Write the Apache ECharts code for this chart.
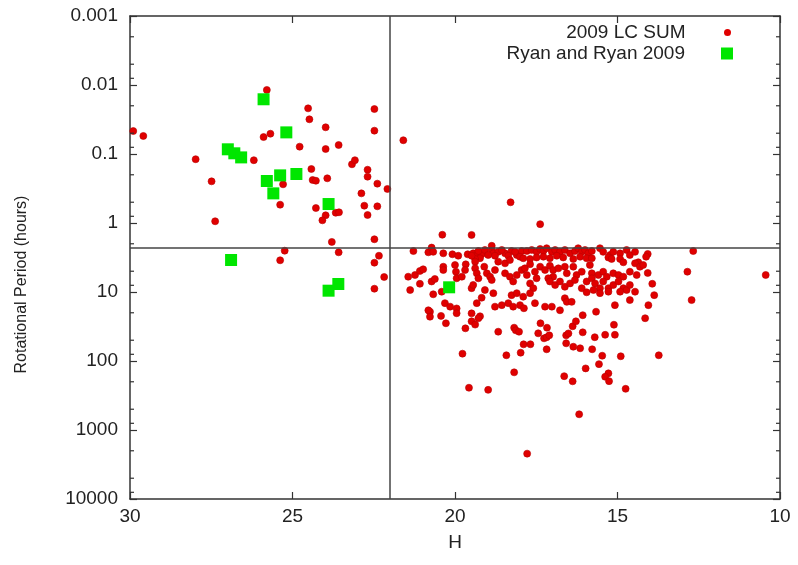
<!DOCTYPE html>
<html><head><meta charset="utf-8">
<script src="https://cdn.jsdelivr.net/npm/echarts@6/dist/echarts.min.js"></script>
<style>html,body{margin:0;padding:0;background:#fff}#c{width:798px;height:565px}</style>
</head><body><div id="c"></div>
<script>
// ---- data ----
const xTickValues = [30, 25, 20, 15, 10];
const yTickLabels = ['0.001', '0.01', '0.1', '1', '10', '100', '1000', '10000'];
const minorTickValues = [0.002,0.005,0.008,0.02,0.05,0.08,0.2,0.5,0.8,2,5,8,20,50,80,200,500,800,2000,5000,8000];
const boundaryH = 22;
const boundaryP = 2.3;
const seriesNames = ['2009 LC SUM', 'Ryan and Ryan 2009'];

// [H, rotational period (hours)]
const lcSum = [
[29.90,0.0465],[29.59,0.0548],[27.98,0.119],[27.49,0.249],[27.38,0.944],[25.79,0.0118],[25.89,0.0568],[25.68,0.0508],[26.19,0.123],[25.29,0.275],[25.38,0.543],[24.52,0.0218],[24.48,0.0314],[24.78,0.0783],[24.42,0.165],[24.38,0.238],[24.28,0.244],[23.98,0.041],[23.98,0.0847],[23.58,0.0741],[23.93,0.225],[24.28,0.607],[23.98,0.773],[24.08,0.914],[23.67,0.71],[23.57,0.70],[23.79,1.88],[23.17,0.141],[23.08,0.123],[22.48,0.0223],[22.48,0.0459],[22.69,0.169],[22.69,0.213],[22.39,0.269],[22.08,0.321],[22.88,0.372],[22.79,0.561],[22.39,0.573],[22.69,0.766],[22.48,1.72],[25.24,2.52],[25.38,3.47],[23.58,2.66],[22.34,2.98],[22.48,3.76],[22.18,6.06],[22.48,8.96],
[21.59,0.0632],[18.29,0.501],[17.38,1.04],[20.39,1.48],[19.49,1.49],[12.67,2.55],[12.85,5.08],[12.72,13.1],[10.44,5.67],[14.07,2.81],[14.12,3.08],[14.07,5.30],[13.93,7.6],[13.87,11.1],[14.15,24.0],[13.73,82.6],
[15.66,19.3],[16.07,21.7],[15.11,29.8],[16.07,38.4],[15.70,45.2],[15.38,41.7],[15.08,41.7],[16.15,65.4],[15.78,67.6],[15.47,83.8],[14.90,85.4],[15.57,111],[15.98,128],[15.28,151],[15.38,169],[15.26,196],[14.75,253],[16.18,592],
[20.77,19.3],[20.77,22.8],[20.43,22.2],[20.28,28.4],[19.68,33.6],[19.49,20.4],[19.49,26.6],[19.38,29.7],[19.23,22.5],[19.28,24.0],[18.67,37.6],[18.18,32.9],[18.13,35.9],[18.03,37.6],[17.37,28.4],[17.17,32.9],[17.44,39.7],[17.26,46.9],[17.18,45.3],[17.10,42.5],[16.38,31.4],[16.28,26.6],[16.58,42.5],[16.51,39.8],[16.58,55.4],[16.36,62.1],[17.89,57.3],[17.68,57.2],[17.98,75.8],[18.42,82.6],[17.18,67.6],[19.77,78.3],[18.18,146],[16.64,166],[16.38,197],[19.57,244],[18.98,262],[17.78,2200],
[21.28,2.55],[20.82,2.66],[20.72,2.27],[20.67,2.62],[20.36,2.75],[20.08,2.84],[19.90,2.98],[19.61,2.84],[19.44,2.75],[19.33,2.91],[19.18,2.84],[19.23,3.24],[19.38,3.32],[18.87,2.46],[18.82,2.75],[18.67,2.62],[18.46,2.75],[18.26,2.55],[18.10,2.91],[17.95,2.55],
[19.49,2.98],[19.28,2.55],[19.08,2.46],[18.98,2.91],[18.77,2.98],[18.56,2.46],[18.36,2.98],[18.15,2.62],[18.0,3.08],[18.87,2.14],
[21.44,6.0],[21.23,5.67],[21.08,4.96],[20.98,4.69],[21.38,9.36],[21.08,7.6],[20.72,7.04],[20.62,6.48],[20.36,4.30],[20.36,4.80],[20.41,9.9],[20.67,10.8],[20.0,4.06],[19.97,5.08],[19.95,6.33],[19.67,3.97],[19.69,4.80],[19.79,6.0],[19.38,3.63],[19.38,4.54],[19.33,5.36],[19.28,6.33],[19.10,4.30],[19.02,5.36],[18.92,6.0],[18.87,6.7],[18.77,4.80],[18.67,3.63],[18.46,5.36],[18.31,6.0],[18.21,7.04],[18.10,5.67],[17.95,4.80],[18.46,3.84],[18.31,3.44],
[20.31,14.5],[20.15,16.3],[19.95,17.3],[19.49,8.8],[19.44,7.9],[19.18,12.1],[19.08,9.36],[18.82,10.4],[19.33,14.5],[18.77,16.3],[18.56,15.5],[18.36,14.5],[18.26,11.1],[18.10,10.4],[18.21,16.3],[18.0,15.5],[20.82,18.4],[19.95,20.3],[17.88,17.2],
[17.79,2.55],[17.64,2.46],[17.49,2.62],[17.38,2.38],[17.28,2.55],[17.18,2.32],[17.02,2.62],[16.92,2.46],[16.77,2.62],[16.62,2.46],[16.46,2.75],[16.31,2.55],[16.21,2.32],[16.10,2.62],[16.0,2.46],[15.90,2.75],[15.79,2.55],[15.54,2.32],[15.44,2.62],[15.23,2.91],[15.13,2.62],[14.92,2.75],[14.72,2.46],[14.62,2.91],[14.46,2.62],
[17.90,3.24],[17.69,3.32],[17.49,3.16],[17.28,3.08],[17.08,3.24],[16.87,2.98],[16.67,3.16],[16.36,3.32],[16.15,3.08],[15.95,3.24],[15.79,3.24],[15.28,3.16],[15.18,3.32],[14.92,3.32],[14.36,3.71],[14.46,3.84],[14.82,3.71],
[17.85,4.54],[17.69,3.96],[17.79,5.67],[17.54,5.08],[17.38,4.30],[17.23,4.80],[17.08,4.17],[16.98,4.80],[16.82,4.54],[16.62,4.30],[16.36,4.30],[16.26,5.67],[16.10,5.08],[15.85,4.06],[15.79,5.36],[15.59,5.67],[15.44,5.08],[15.33,6.0],[15.13,5.36],[14.97,5.67],[14.82,6.0],[14.62,5.08],[14.41,5.67],[14.31,4.30],[14.21,4.06],[16.56,5.36],[16.98,6.0],[17.13,6.33],[17.49,6.33],
[17.69,7.5],[17.59,8.8],[17.08,7.04],[16.92,7.92],[16.77,7.04],[16.62,8.4],[16.46,7.5],[16.31,6.7],[16.10,8.8],[15.95,7.04],[15.79,6.33],[15.69,7.5],[15.54,8.8],[15.44,7.04],[15.28,8.8],[15.13,7.92],[14.97,7.04],[14.82,8.8],[14.72,9.36],[14.62,7.92],
[17.90,11.7],[17.69,10.4],[17.54,14.5],[17.23,16.3],[17.02,16.3],[16.77,18.4],[16.62,12.3],[16.56,13.9],[16.41,13.9],[15.08,15.5],[14.62,13.1],[15.74,9.36],[15.95,10.1],[15.54,10.4],[15.28,9.9],[14.92,9.9],[14.46,9.9],[14.05,15.5]
];

const ryan2009 = [
[25.89,0.0161],[25.19,0.0486],[26.99,0.0855],[26.79,0.0977],[26.58,0.112],[25.79,0.246],[25.38,0.204],[24.88,0.195],[25.59,0.372],[23.89,0.531],[26.89,3.44],[23.59,7.66],[23.89,9.57],[20.18,8.55]
];

// ---- chart ----
const FONT = 'Liberation Sans, Arial, Helvetica, sans-serif';
const AX = '#333';
const chart = echarts.init(document.getElementById('c'), null, {renderer: 'canvas'});

const xBase = {
  type: 'value', min: 10, max: 30, interval: 5, inverse: true,
  axisLine: {show: true, onZero: false, lineStyle: {color: AX, width: 1.5}},
  axisTick: {show: true, inside: true, length: 7, lineStyle: {color: AX, width: 1.2}},
  splitLine: {show: false}
};
const yBase = {
  type: 'log', logBase: 10, min: 0.001, max: 10000, inverse: true,
  axisLine: {show: true, onZero: false, lineStyle: {color: AX, width: 1.5}},
  axisTick: {show: true, inside: true, length: 7, lineStyle: {color: AX, width: 1.2}},
  splitLine: {show: false}, minorTick: {show: false}
};

chart.setOption({
  animation: false,
  backgroundColor: '#fff',
  textStyle: {fontFamily: FONT},
  grid: {left: 130, right: 18, top: 16, bottom: 66, containLabel: false},
  legend: [
    {
      data: [{name: seriesNames[0], icon: 'path://M0,5a5,5 0 1,0 10,0a5,5 0 1,0 -10,0Z', itemStyle: {borderWidth: 0}}],
      orient: 'vertical', align: 'right', right: 67, top: 23, padding: 0,
      itemWidth: 74, itemHeight: 7, selectedMode: false,
      textStyle: {fontSize: 19, color: '#222', fontFamily: FONT}
    },
    {
      data: [{name: seriesNames[1], icon: 'path://M0,0L10,0L10,10L0,10Z'}],
      orient: 'vertical', align: 'right', right: 65, top: 44, padding: 0,
      itemWidth: 74, itemHeight: 12, selectedMode: false,
      textStyle: {fontSize: 19, color: '#222', fontFamily: FONT}
    }
  ],
  xAxis: [
    Object.assign({}, xBase, {
      position: 'bottom',
      axisLabel: {show: true, fontSize: 19, color: '#222', margin: 8, fontFamily: FONT},
      name: 'H', nameLocation: 'middle', nameGap: 34,
      nameTextStyle: {fontSize: 19, color: '#222', fontFamily: FONT}
    }),
    Object.assign({}, xBase, {position: 'top', axisLabel: {show: false}})
  ],
  yAxis: [
    Object.assign({}, yBase, {
      position: 'left',
      axisLabel: {
        show: true, fontSize: 19, color: '#222', margin: 12, fontFamily: FONT,
        formatter: function (v) { return yTickLabels[Math.round(Math.log10(v)) + 3]; }
      },
      name: 'Rotational Period (hours)', nameLocation: 'middle', nameGap: 100, nameRotate: 90,
      nameTextStyle: {fontSize: 16, color: '#222', fontFamily: FONT, padding: [0, 54, 0, 0]}
    }),
    Object.assign({}, yBase, {position: 'right', axisLabel: {show: false}})
  ],
  series: [
    {
      name: seriesNames[0], type: 'scatter', xAxisIndex: 0, yAxisIndex: 0,
      data: lcSum, symbol: 'circle', symbolSize: 7,
      itemStyle: {color: '#e00000', borderColor: '#b80000', borderWidth: 0.6, opacity: 1},
      markLine: {
        silent: true, symbol: 'none', animation: false,
        label: {show: false},
        lineStyle: {color: '#444', width: 1.5, type: 'solid'},
        data: [{xAxis: boundaryH}, {yAxis: boundaryP}]
      },
      z: 3
    },
    {
      name: seriesNames[1], type: 'scatter', xAxisIndex: 0, yAxisIndex: 0,
      data: ryan2009, symbol: 'rect', symbolSize: 12,
      itemStyle: {color: '#00e600', opacity: 1},
      z: 4
    },
    {
      name: 'minorTicks', type: 'custom', xAxisIndex: 0, yAxisIndex: 0,
      silent: true, clip: false, z: 5,
      data: minorTickValues.map(function (v) { return [xTickValues[0], v]; }),
      encode: {x: 0, y: 1},
      renderItem: function (params, api) {
        const v = api.value(1);
        const L = api.coord([xTickValues[0], v]);
        const R = api.coord([xTickValues[xTickValues.length - 1], v]);
        return {
          type: 'group', children: [
            {type: 'line', shape: {x1: L[0], y1: L[1], x2: L[0] + 4, y2: L[1]}, style: {stroke: AX, lineWidth: 1.2}},
            {type: 'line', shape: {x1: R[0] - 4, y1: R[1], x2: R[0], y2: R[1]}, style: {stroke: AX, lineWidth: 1.2}}
          ]
        };
      }
    }
  ]
});
</script>
</body></html>
